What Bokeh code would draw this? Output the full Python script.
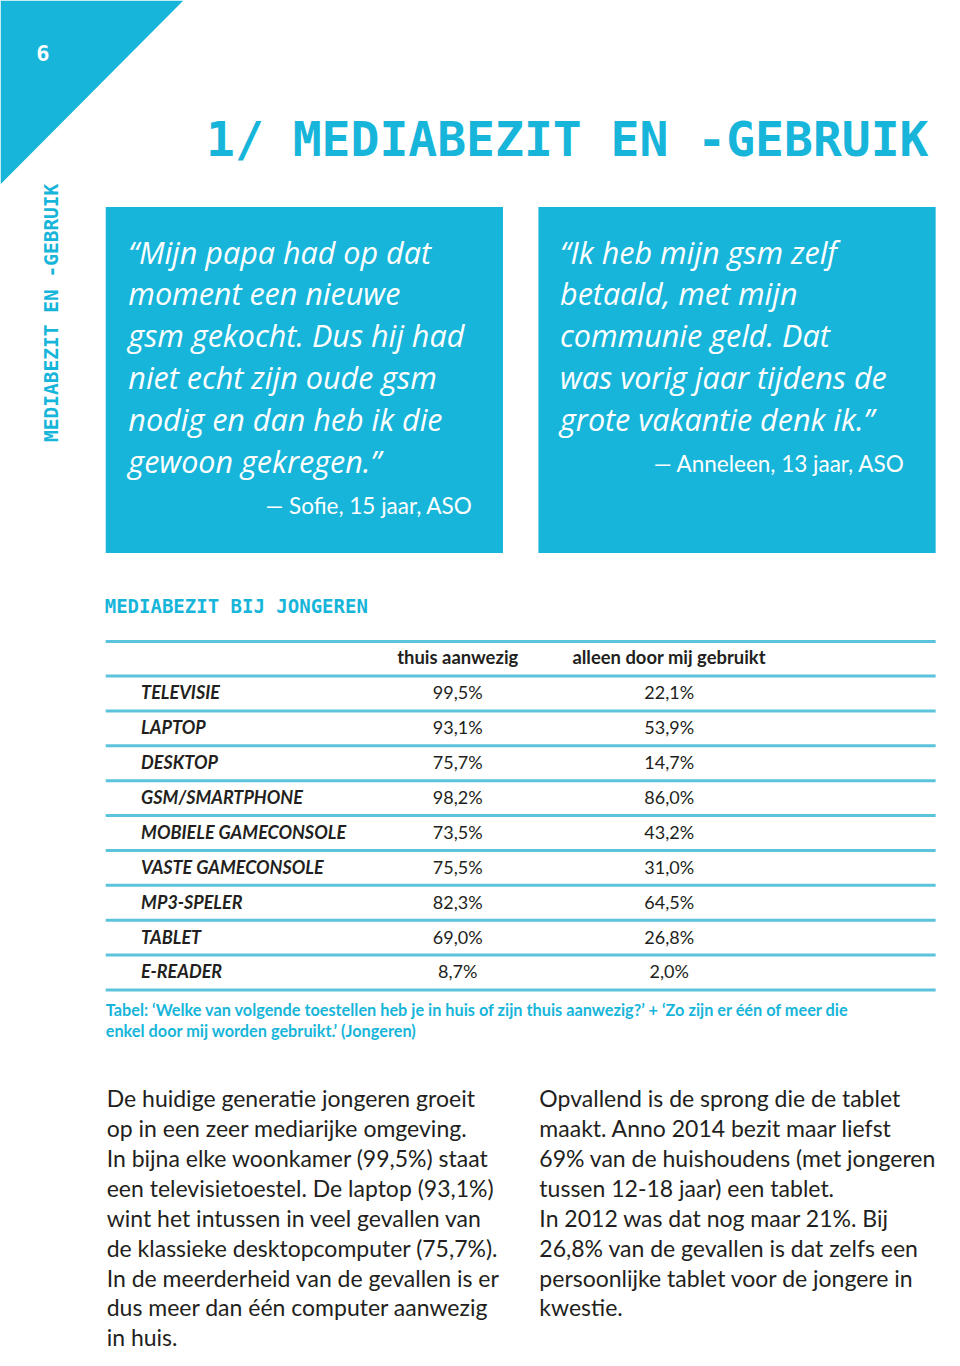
from bokeh.plotting import figure
from bokeh.models import Range1d, ColumnDataSource
from bokeh.core.properties import value
from bokeh.embed import file_html
from bokeh.resources import INLINE
import math

# ---------------- data ----------------
devices = ["TELEVISIE", "LAPTOP", "DESKTOP", "GSM/SMARTPHONE", "MOBIELE GAMECONSOLE",
           "VASTE GAMECONSOLE", "MP3-SPELER", "TABLET", "E-READER"]
thuis_aanwezig = [99.5, 93.1, 75.7, 98.2, 73.5, 75.5, 82.3, 69.0, 8.7]
alleen_door_mij = [22.1, 53.9, 14.7, 86.0, 43.2, 31.0, 64.5, 26.8, 2.0]
col_headers = ["thuis aanwezig", "alleen door mij gebruikt"]

page_no = "6"
title = "1/ MEDIABEZIT EN -GEBRUIK"
side_label = "MEDIABEZIT EN -GEBRUIK"
table_title = "MEDIABEZIT BIJ JONGEREN"
quote_left = ["\u201cMijn papa had op dat", "moment een nieuwe", "gsm gekocht. Dus hij had",
              "niet echt zijn oude gsm", "nodig en dan heb ik die", "gewoon gekregen.\u201d"]
quote_left_by = "\u2014 Sofie, 15 jaar, ASO"
quote_right = ["\u201cIk heb mijn gsm zelf", "betaald, met mijn", "communie geld. Dat",
               "was vorig jaar tijdens de", "grote vakantie denk ik.\u201d"]
quote_right_by = "\u2014 Anneleen, 13 jaar, ASO"
caption = ["Tabel: \u2018Welke van volgende toestellen heb je in huis of zijn thuis aanwezig?\u2019 + \u2018Zo zijn er \u00e9\u00e9n of meer die",
           "enkel door mij worden gebruikt.\u2019 (Jongeren)"]
body_left = ["De huidige generatie jongeren groeit", "op in een zeer mediarijke omgeving.",
             "In bijna elke woonkamer (99,5%) staat", "een televisietoestel. De laptop (93,1%)",
             "wint het intussen in veel gevallen van", "de klassieke desktopcomputer (75,7%).",
             "In de meerderheid van de gevallen is er", "dus meer dan \u00e9\u00e9n computer aanwezig",
             "in huis."]
body_right = ["Opvallend is de sprong die de tablet", "maakt. Anno 2014 bezit maar liefst",
              "69% van de huishoudens (met jongeren", "tussen 12-18 jaar) een tablet.",
              "In 2012 was dat nog maar 21%.  Bij", "26,8% van de gevallen is dat zelfs een",
              "persoonlijke tablet voor de jongere in", "kwestie."]

# ---------------- style ----------------
CYAN = "#17b5da"
LINE = "#5cc3dc"
DARK = "#231f20"
SANS = value("Lato")
QUOTE = value("Open Sans")
MONO = value("DejaVu Sans Mono")

W, H = 944, 1350
p = figure(width=W, height=H, output_backend="svg", toolbar_location=None,
           x_range=Range1d(0, 960), y_range=Range1d(1366, 0),
           min_border=0, outline_line_color=None, background_fill_color="white",
           border_fill_color="white")
p.axis.visible = False
p.grid.visible = False

def fmt(v):
    return f"{v:.1f}".replace(".", ",") + "%"

# corner triangle + page number
p.patch([0, 186, 0], [0, 0, 186], fill_color=CYAN, line_color=None)
p.text([43], [53], text=[page_no], text_font=MONO, text_font_style="bold",
       text_font_size="22px", text_color="white", text_align="center", text_baseline="middle")

# title
p.text([209], [140], text=[title], text_font=MONO, text_font_style="bold",
       text_font_size="48px", text_color=CYAN, text_align="left", text_baseline="middle")

# side label
p.text([52], [316], text=[side_label], angle=math.pi / 2, text_font=MONO, text_font_style="bold",
       text_font_size="19.5px", text_color=CYAN, text_align="center", text_baseline="middle")

# quote boxes
box_left = [107, 547]
p.quad(left=box_left, right=[b + 404 for b in box_left], top=[209, 209], bottom=[559, 559],
       fill_color=CYAN, line_color=None)

def quote(lines, by, x0, by_x, by_y):
    ys = [254 + 42.3 * i for i in range(len(lines))]
    p.text([x0] * len(lines), ys, text=lines, text_font=QUOTE, text_font_style="italic",
           text_font_size="30.5px", text_color="white", text_align="left", text_baseline="middle")
    p.text([by_x], [by_y], text=[by], text_font=SANS, text_font_size="22.5px",
           text_color="white", text_align="right", text_baseline="middle")

quote(quote_left, quote_left_by, 130, 480, 511)
quote(quote_right, quote_right_by, 569, 920, 468)

# table title
p.text([106], [613], text=[table_title], text_font=MONO, text_font_style="bold",
       text_font_size="19px", text_color=CYAN, text_align="left", text_baseline="middle")

# table lines
n = len(devices)
line_y = [648.5] + [683.5 + 35.3 * i for i in range(n + 1)]
p.segment(x0=[107] * len(line_y), x1=[951] * len(line_y), y0=line_y, y1=line_y,
          line_color=LINE, line_width=3)

col_x = [465, 680]
p.text(col_x, [664, 664], text=col_headers, text_font=SANS, text_font_style="bold",
       text_font_size="18.4px", text_color=DARK, text_align="center", text_baseline="middle")

row_y = [700 + 35.3 * i for i in range(n)]
src = ColumnDataSource(dict(y=row_y, dev=devices,
                            a=[fmt(v) for v in thuis_aanwezig],
                            b=[fmt(v) for v in alleen_door_mij]))
p.text(x=143, y="y", text="dev", source=src, text_font=SANS, text_font_style="bold italic",
       text_font_size="18px", text_color=DARK, text_align="left", text_baseline="middle")
p.text(x=col_x[0], y="y", text="a", source=src, text_font=SANS, text_font_size="18px",
       text_color=DARK, text_align="center", text_baseline="middle")
p.text(x=col_x[1], y="y", text="b", source=src, text_font=SANS, text_font_size="18px",
       text_color=DARK, text_align="center", text_baseline="middle")

# caption
p.text([107, 107], [1021, 1042], text=caption, text_font=SANS, text_font_style="bold",
       text_font_size="16.3px", text_color=CYAN, text_align="left", text_baseline="middle")

# body text
body_y0, body_dy = 1111, 30.2
p.text([108] * len(body_left), [body_y0 + body_dy * i for i in range(len(body_left))], text=body_left,
       text_font=SANS, text_font_size="23px", text_color=DARK, text_align="left",
       text_baseline="middle")
p.text([548] * len(body_right), [body_y0 + body_dy * i for i in range(len(body_right))], text=body_right,
       text_font=SANS, text_font_size="23px", text_color=DARK, text_align="left",
       text_baseline="middle")

open("out.html", "w").write(file_html(p, INLINE))
